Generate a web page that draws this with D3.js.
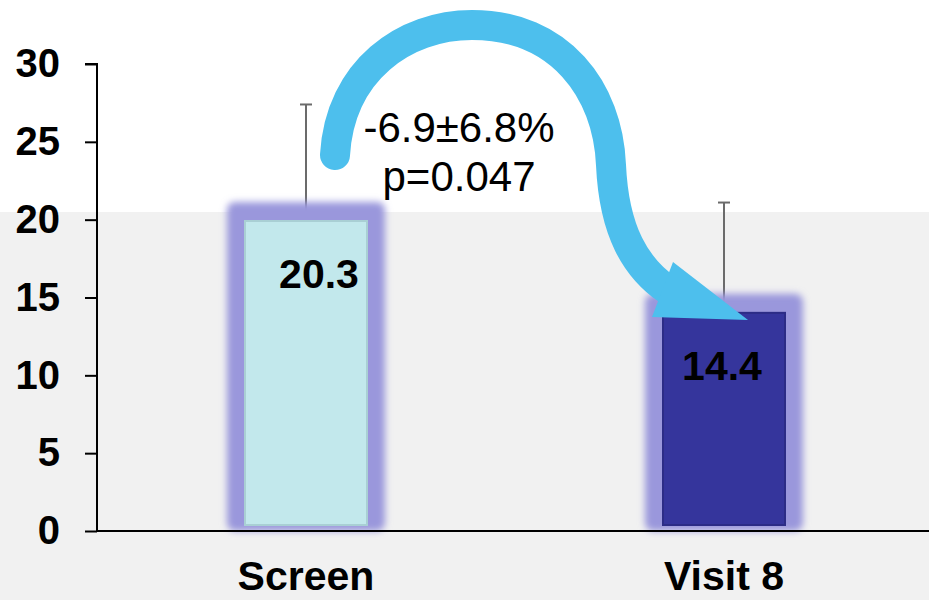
<!DOCTYPE html>
<html>
<head>
<meta charset="utf-8">
<script src="https://cdn.jsdelivr.net/npm/d3@7"></script>
<style>
  body { margin: 0; background: #fff; }
  svg { display: block; font-family: "Liberation Sans", Arial, Helvetica, sans-serif; }
</style>
</head>
<body>
<div id="chart"></div>
<script>
// data
const categories = ["Screen", "Visit 8"];
const values = [20.3, 14.4];
const errors = [7.1, 6.7];
const valueLabels = ["20.3", "14.4"];
const barColors = ["#c2e8ec", "#35359c"];
const yTicks = [0, 5, 10, 15, 20, 25, 30];
const changeText = ["-6.9\u00b16.8%", "p=0.047"];

let w = 929,
    h = 600;

let margin = { top: 64, bottom: 69, left: 97, right: 0 };

let svg = d3.select("#chart")
            .append("svg")
            .attr("width", w)
            .attr("height", h);

let defs = svg.append("defs");
defs.append("filter")
    .attr("id", "glow")
    .attr("x", "-30%").attr("y", "-30%")
    .attr("width", "160%").attr("height", "160%")
    .append("feGaussianBlur")
    .attr("stdDeviation", 3.5);

let y = d3.scaleLinear()
          .domain([0, 30])
          .range([h - margin.bottom, margin.top]);

let x = d3.scalePoint()
          .domain(categories)
          .range([margin.left, 933])
          .padding(0.5);

// light grey backdrop behind the lower part of the chart
svg.append("rect")
   .attr("x", 0)
   .attr("y", 212)
   .attr("width", w)
   .attr("height", h - 212)
   .attr("fill", "#f1f1f1");

// error bars (drawn under the bars)
let errG = svg.append("g");
categories.forEach((c, i) => {
  let cx = x(c);
  errG.append("line")
      .attr("x1", cx).attr("x2", cx)
      .attr("y1", y(values[i])).attr("y2", y(values[i] + errors[i]))
      .attr("stroke", "#6b6b6b").attr("stroke-width", 2);
  errG.append("line")
      .attr("x1", cx - 6).attr("x2", cx + 6)
      .attr("y1", y(values[i] + errors[i])).attr("y2", y(values[i] + errors[i]))
      .attr("stroke", "#6b6b6b").attr("stroke-width", 2);
});

// bars with a purple glow
let glowHalf = 79,
    innerHalf = 61;

svg.selectAll(".glow")
   .data(values)
   .enter()
   .append("rect")
   .attr("class", "glow")
   .attr("x", (d, i) => x(categories[i]) - glowHalf)
   .attr("y", d => y(d) - 13)
   .attr("width", glowHalf * 2)
   .attr("height", d => y(0) - y(d) + 13)
   .attr("rx", 8)
   .attr("fill", "#9a97dc")
   .attr("filter", "url(#glow)");

svg.selectAll(".bar")
   .data(values)
   .enter()
   .append("rect")
   .attr("class", "bar")
   .attr("x", (d, i) => x(categories[i]) - innerHalf)
   .attr("y", d => y(d) + 6)
   .attr("width", innerHalf * 2)
   .attr("height", d => y(0) - y(d) - 12)
   .attr("fill", (d, i) => barColors[i])
   .attr("stroke", (d, i) => i == 0 ? "#a9cfd4" : "#2c2c86")
   .attr("stroke-width", 2);

// value labels
svg.selectAll(".val")
   .data(values)
   .enter()
   .append("text")
   .attr("class", "val")
   .attr("x", (d, i) => x(categories[i]) + (i == 0 ? 13 : -2))
   .attr("y", d => y(d) + 73)
   .attr("text-anchor", "middle")
   .attr("font-size", 41)
   .attr("font-weight", "bold")
   .attr("fill", "#000")
   .text((d, i) => valueLabels[i]);

// y axis
let yAxis = d3.axisLeft(y)
              .tickValues(yTicks)
              .tickSize(12)
              .tickPadding(25)
              .tickFormat(d3.format("d"));

let yG = svg.append("g")
            .attr("transform", `translate(${margin.left},0)`)
            .call(yAxis);
yG.select(".domain").attr("stroke", "#000").attr("stroke-width", 2)
  .attr("d", `M-12,${y(30)}H0V${y(0)}`);
yG.selectAll(".tick line").attr("stroke", "#000").attr("stroke-width", 2);
yG.selectAll(".tick text")
  .attr("font-size", 40)
  .attr("font-weight", "bold")
  .attr("font-family", "Liberation Sans, Arial, sans-serif")
  .attr("fill", "#000");

// x axis line
svg.append("line")
   .attr("x1", margin.left).attr("x2", w)
   .attr("y1", y(0)).attr("y2", y(0))
   .attr("stroke", "#000").attr("stroke-width", 2);

// category labels
svg.selectAll(".cat")
   .data(categories)
   .enter()
   .append("text")
   .attr("class", "cat")
   .attr("x", d => x(d))
   .attr("y", 590)
   .attr("text-anchor", "middle")
   .attr("font-size", 41)
   .attr("font-weight", "bold")
   .attr("fill", "#000")
   .text(d => d);

// curved arrow from Screen to Visit 8
svg.append("path")
   .attr("d", "M335,155 C340,70 405,25 472,25 C560,25 608,90 611,165 C614,232 636,268 668,290")
   .attr("fill", "none")
   .attr("stroke", "#4dbfed")
   .attr("stroke-width", 30)
   .attr("stroke-linecap", "round");

svg.append("path")
   .attr("d", "M673,262 L748,320 L652,317 Z")
   .attr("fill", "#4dbfed");

// change annotation
svg.selectAll(".note")
   .data(changeText)
   .enter()
   .append("text")
   .attr("class", "note")
   .attr("x", 459)
   .attr("y", (d, i) => 142 + i * 49)
   .attr("text-anchor", "middle")
   .attr("font-size", 42)
   .attr("fill", "#000")
   .text(d => d);
</script>
</body>
</html>
